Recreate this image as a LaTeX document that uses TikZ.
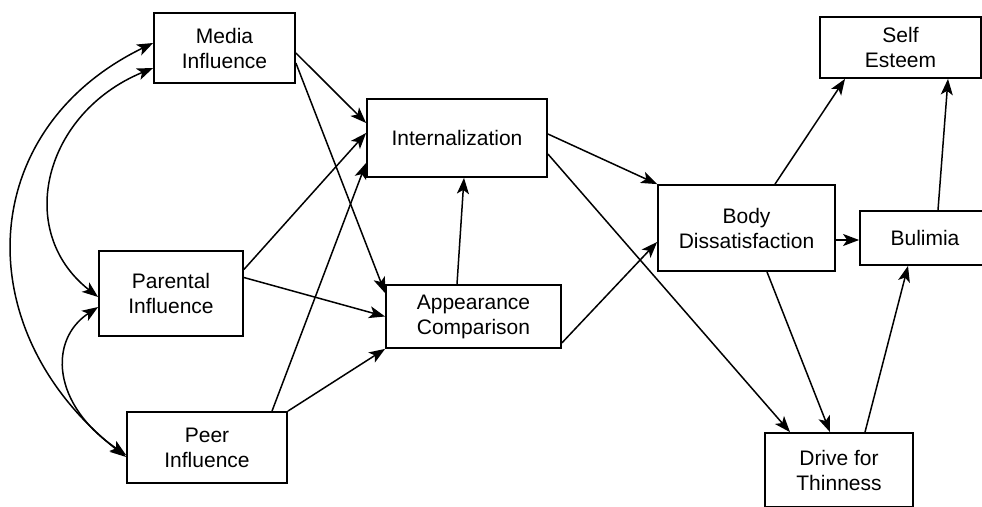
\documentclass[tikz,border=0pt]{standalone}
\usepackage{fontspec}
\setmainfont{Liberation Sans}
\usetikzlibrary{arrows.meta,calc}

\begin{document}
\begin{tikzpicture}[x=1pt,y=-1pt,line width=1.5pt,
    font=\fontsize{21}{25}\selectfont]

      \useasboundingbox (0,0) rectangle (982,506);
      \clip (0,0) rectangle (982,506);

      \begin{scope}[every node/.style={draw, align=center, line width=1.8pt}]
        \node[minimum width=141pt, minimum height=70pt] (media)    at (224.5,48)  {Media\\Influence};
        \node[minimum width=144pt, minimum height=85pt] (parental) at (171,293.5) {Parental\\Influence};
        \node[minimum width=160pt, minimum height=71pt] (peer)     at (207,447.5) {Peer\\Influence};
        \node[minimum width=180pt, minimum height=78pt] (intern)   at (457,138)   {Internalization};
        \node[minimum width=175pt, minimum height=63pt] (appear)   at (473.5,316.5) {Appearance\\Comparison};
        \node[minimum width=177pt, minimum height=86pt] (body)     at (746.5,228) {Body\\Dissatisfaction};
        \node[minimum width=161pt, minimum height=61pt] (self)     at (900.5,47.5) {Self\\Esteem};
        \node[minimum width=130pt, minimum height=54pt] (bulimia)  at (925,238)   {Bulimia};
        \node[minimum width=148pt, minimum height=74pt] (drive)    at (839,470)   {Drive for\\Thinness};
      \end{scope}

      \begin{scope}[every edge/.style={draw, -{Stealth[length=16pt,width=12pt,inset=4pt]}}]
        \path ($(media.east)+(0,5)$)      edge ($(intern.west)+(0,-15)$);
        \path ($(media.east)+(0,15)$)     edge ($(appear.north west)+(0,9)$);
        \path ($(parental.east)+(0,-24)$) edge ($(intern.west)+(0,-5)$);
        \path ($(parental.east)+(0,-16)$) edge (appear.west);
        \path ($(peer.north)+(65,0)$)     edge ($(intern.south west)+(0,-15)$);
        \path (peer.north east)           edge (appear.south west);
        \path ($(appear.north)+(-16.5,0)$) edge ($(intern.south)+(7,0)$);
        \path ($(intern.east)+(0,-4)$)    edge (body.north west);
        \path ($(intern.east)+(0,16)$)    edge ($(drive.north)+(-49,0)$);
        \path ($(appear.south east)+(0,-6)$) edge ($(body.west)+(0,14)$);
        \path ($(body.north)+(28.5,0)$)   edge ($(self.south)+(-55.5,0)$);
        \path ($(body.east)+(0,12)$)      edge ($(bulimia.west)+(0,2)$);
        \path ($(bulimia.north)+(13,0)$)  edge ($(self.south)+(47.5,0)$);
        \path ($(body.south)+(20.5,0)$)   edge ($(drive.north)+(-9,0)$);
        \path ($(drive.north)+(26,0)$)    edge ($(bulimia.south)+(-17,0)$);
      \end{scope}

      % correlations
      \begin{scope}[{Stealth[length=16pt,width=12pt,inset=4pt]}-{Stealth[length=16pt,width=12pt,inset=4pt]}]
        \draw ($(media.west)+(0,-5)$) .. controls (-26,130) and (-33,332) .. ($(peer.west)+(0,9.5)$);
        \draw ($(media.west)+(0,20)$) .. controls (44,113) and (14,231) .. ($(parental.west)+(0,3.5)$);
        \draw ($(parental.west)+(0,13.5)$) .. controls (48,340) and (52,405) .. ($(peer.west)+(0,7.5)$);
      \end{scope}

    \end{tikzpicture}
\end{document}
